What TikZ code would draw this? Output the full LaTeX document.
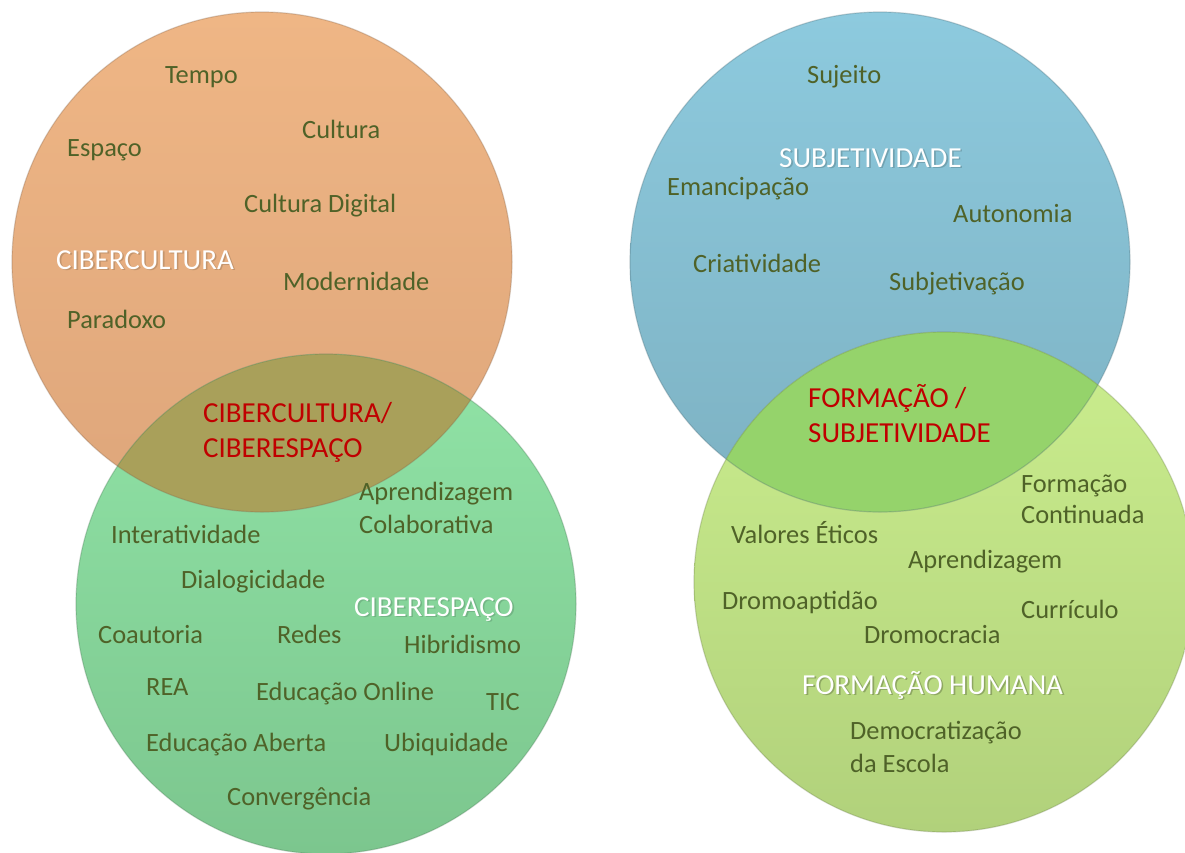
\documentclass[tikz,border=0pt]{standalone}
\usepackage{fontspec}
\setmainfont{Carlito}
\usetikzlibrary{shadings}
\definecolor{txtgreen}{HTML}{4F6228}
\definecolor{txtred}{HTML}{C00000}
\definecolor{orTop}{HTML}{EFB685}
\definecolor{orBot}{HTML}{DEA67B}
\definecolor{grTop}{HTML}{90E3A6}
\definecolor{grBot}{HTML}{7CC68E}
\definecolor{blTop}{HTML}{8DCADE}
\definecolor{blBot}{HTML}{7DB1C2}
\definecolor{lgTop}{HTML}{CBEE8E}
\definecolor{lgBot}{HTML}{B1D17B}
\definecolor{lensL}{HTML}{A9A05A}
\definecolor{lensR}{HTML}{95D36B}
\tikzset{
  venn/.style={circle, inner sep=0pt, outer sep=0pt, minimum size=500pt},
  rim/.style={line width=1.2pt, draw opacity=0.3},
  word/.style={anchor=base west, inner sep=0pt, text=txtgreen, font=\fontsize{26.4}{30}\selectfont},
  title/.style={anchor=base west, inner sep=0pt, text=white, font=\fontsize{29}{33}\selectfont},
  inter/.style={anchor=base west, inner sep=0pt, text=txtred, font=\fontsize{29}{33}\selectfont},
}
% white title with a soft darker shadow, kept inside one text
\newcommand{\shadowed}[2]{\rlap{\kern1.6pt\raisebox{-1.6pt}{\textcolor{#1}{#2}}}#2}
\begin{document}
\begin{tikzpicture}[x=1pt, y=-1pt]
\useasboundingbox[fill=white] (0,0) rectangle (1185,852);
% left pair
\node[venn, top color=orTop, bottom color=orBot] (cibercultura) at (262,262) {};
\node[venn, top color=grTop, bottom color=grBot] (ciberespaco) at (326,604) {};
\begin{scope}
  \clip (cibercultura.center) circle (250pt);
  \fill[lensL] (ciberespaco.center) circle (250pt);
\end{scope}
\draw[rim, draw=orBot!60!black] (cibercultura.center) circle (250pt);
\draw[rim, draw=grBot!60!black] (ciberespaco.center) circle (250pt);
% right pair
\node[venn, top color=blTop, bottom color=blBot] (subjetividade) at (880,262) {};
\node[venn, top color=lgTop, bottom color=lgBot] (formacao) at (944,582) {};
\begin{scope}
  \clip (subjetividade.center) circle (250pt);
  \fill[lensR] (formacao.center) circle (250pt);
\end{scope}
\draw[rim, draw=blBot!60!black] (subjetividade.center) circle (250pt);
\draw[rim, draw=lgBot!60!black] (formacao.center) circle (250pt);

% CIBERCULTURA words
\node[word] (tempo) at (165,83) {Tempo};
\node[word] (cultura) at (302,138) {Cultura};
\node[word] (espaco) at (67,156) {Espaço};
\node[word] (culturadigital) at (244,212) {Cultura Digital};
\node[title] (t1) at (56,269) {\shadowed{orTop!82!black}{CIBERCULTURA}};
\node[word] (modernidade) at (283,290) {Modernidade};
\node[word] (paradoxo) at (67,328) {Paradoxo};
\node[inter] (i1a) at (203,422) {CIBERCULTURA/};
\node[inter] (i1b) at (203,457) {CIBERESPAÇO};

% CIBERESPACO words
\node[word] (aprcol1) at (359,500) {Aprendizagem};
\node[word] (aprcol2) at (359,533) {Colaborativa};
\node[word] (interatividade) at (111,543) {Interatividade};
\node[word] (dialogicidade) at (181,588) {Dialogicidade};
\node[title] (t2) at (354,616) {\shadowed{grTop!80!black}{CIBERESPAÇO}};
\node[word] (coautoria) at (98,643) {Coautoria};
\node[word] (redes) at (277,643) {Redes};
\node[word] (hibridismo) at (404,653) {Hibridismo};
\node[word] (rea) at (146,695) {REA};
\node[word] (edonline) at (256,700) {Educação Online};
\node[word] (tic) at (486,710) {TIC};
\node[word] (edaberta) at (146,751) {Educação Aberta};
\node[word] (ubiquidade) at (384,751) {Ubiquidade};
\node[word] (convergencia) at (227,805) {Convergência};

% SUBJETIVIDADE words
\node[word] (sujeito) at (807,83) {Sujeito};
\node[title] (t3) at (779,167) {\shadowed{blTop!80!black}{SUBJETIVIDADE}};
\node[word] (emancipacao) at (667,195) {Emancipação};
\node[word] (autonomia) at (953,222) {Autonomia};
\node[word] (criatividade) at (693,272) {Criatividade};
\node[word] (subjetivacao) at (889,290) {Subjetivação};
\node[inter] (i2a) at (808,407) {FORMAÇÃO /};
\node[inter] (i2b) at (808,442) {SUBJETIVIDADE};

% FORMACAO HUMANA words
\node[word] (formcont1) at (1021,492) {Formação};
\node[word] (formcont2) at (1021,523) {Continuada};
\node[word] (valores) at (731,543) {Valores Éticos};
\node[word] (aprendizagem) at (908,568) {Aprendizagem};
\node[word] (dromoaptidao) at (722,609) {Dromoaptidão};
\node[word] (curriculo) at (1021,618) {Currículo};
\node[word] (dromocracia) at (864,643) {Dromocracia};
\node[title] (t4) at (802,694) {\shadowed{lgBot!80!black}{FORMAÇÃO HUMANA}};
\node[word] (democ1) at (850,739) {Democratização};
\node[word] (democ2) at (850,772) {da Escola};
\end{tikzpicture}
\end{document}
